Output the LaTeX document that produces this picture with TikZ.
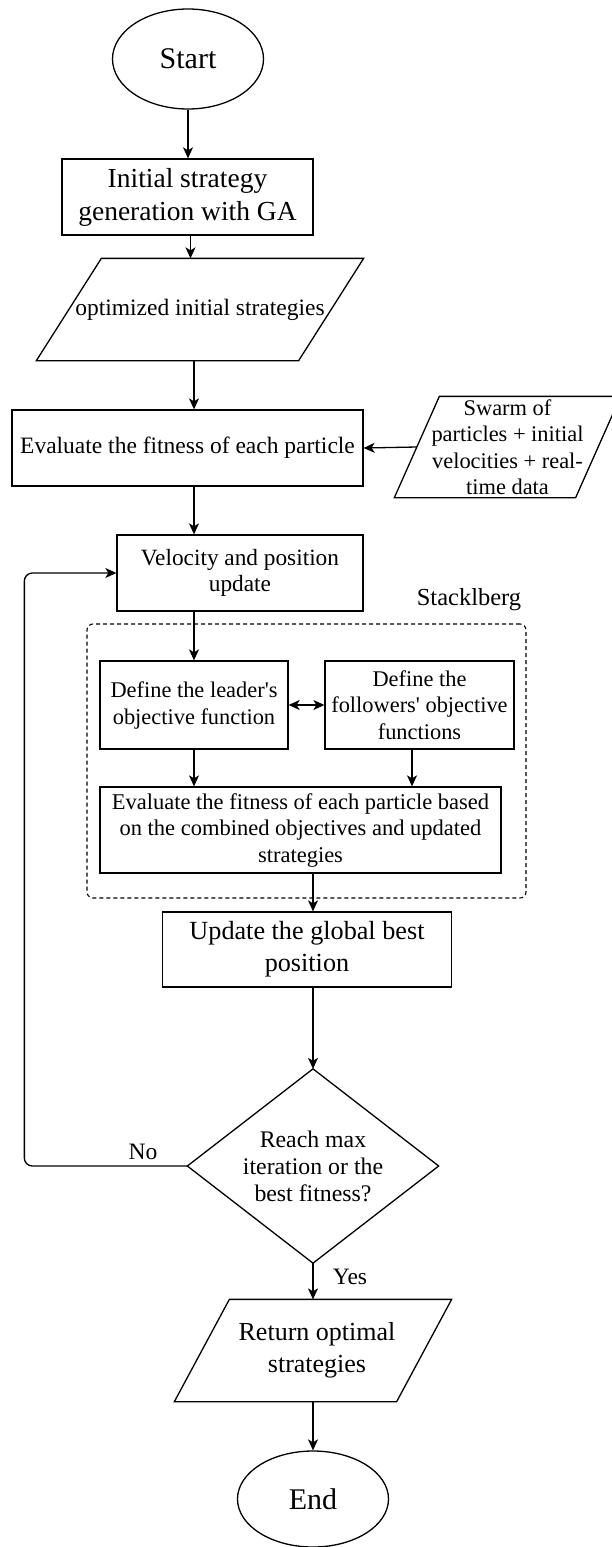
\documentclass[tikz,border=0pt]{standalone}
\usepackage{fontspec}
\setmainfont{Liberation Serif}
\usetikzlibrary{shapes.geometric,arrows.meta,calc}
\tikzset{
  base/.style={line width=1.3pt, align=center, inner sep=0pt, font=\fontsize{23.5}{26.5}\selectfont},
  box/.style={base, draw, rectangle},
  term/.style={base, draw, ellipse, font=\fontsize{30}{34}\selectfont},
  holder/.style={base, rectangle},
  outline/.style={line width=1.3pt},
  arr/.style={line width=1.3pt, -{Stealth[length=11pt,width=10pt,inset=3pt]}},
  dblarr/.style={line width=1.3pt, {Stealth[length=11pt,width=10pt,inset=3pt]}-{Stealth[length=11pt,width=10pt,inset=3pt]}},
  frame/.style={draw, line width=1.1pt, rounded corners=6pt, dash pattern=on 4pt off 3pt},
  lbl/.style={font=\fontsize{23.5}{26}\selectfont, inner sep=0pt},
}
\begin{document}
\begin{tikzpicture}[x=1pt,y=-1pt]
\useasboundingbox (0,0) rectangle (611,1547);

% nodes
\node[term, minimum width=151, minimum height=100] (start) at (188,59) {Start};
\node[box, minimum width=251, minimum height=76, font=\fontsize{27.5}{33}\selectfont] (box1) at (187.5,197) {Initial strategy\\generation with GA};
\node[holder, minimum width=261, minimum height=101] (p1) at (200,309.5) {optimized initial strategies};
\draw[outline] ($(p1.north west)+(32.5,0)$) -- ($(p1.north east)+(32.5,0)$) -- ($(p1.south east)+(-32.5,0)$) -- ($(p1.south west)+(-32.5,0)$) -- cycle;
\node[box, minimum width=351, minimum height=76] (box2) at (187.5,448) {Evaluate the fitness of each particle};
\node[holder, minimum width=180, minimum height=100, font=\fontsize{22.4}{26.5}\selectfont] (swarm) at (507.5,447) {Swarm of\\particles + initial\\velocities + real-\\time data};
\draw[outline] ($(swarm.north west)+(22.5,0)$) -- ($(swarm.north east)+(22.5,0)$) -- ($(swarm.south east)+(-22.5,0)$) -- ($(swarm.south west)+(-22.5,0)$) -- cycle;
\node[box, minimum width=246, minimum height=76, font=\fontsize{23.3}{26}\selectfont] (vel) at (240,573) {Velocity and position\\update};
\node[frame, minimum width=439, minimum height=274] (frm) at (306.5,761) {};
\node[lbl, font=\fontsize{24.5}{28}\selectfont] (stk) at (469,600) {Stacklberg};
\node[box, minimum width=188, minimum height=88, font=\fontsize{22.4}{27}\selectfont] (lead) at (194,705) {Define the leader\textquotesingle s\\objective function};
\node[box, minimum width=189, minimum height=88, font=\fontsize{22.4}{26.5}\selectfont] (foll) at (419.5,705) {Define the\\followers\textquotesingle{} objective\\functions};
\node[box, minimum width=401, minimum height=86, font=\fontsize{22.5}{26.5}\selectfont] (eval) at (300.5,830) {Evaluate the fitness of each particle based\\on the combined objectives and updated\\strategies};
\node[box, minimum width=289, minimum height=75, font=\fontsize{26.2}{32}\selectfont] (upd) at (307,949.5) {Update the global best\\position};
\node[holder, minimum width=250, minimum height=193, font=\fontsize{23.8}{27}\selectfont] (dec) at (313,1166) {Reach max\\iteration or the\\best fitness?};
\draw[outline] (dec.north) -- (dec.east) -- (dec.south) -- (dec.west) -- cycle;
\node[holder, minimum width=221, minimum height=101, font=\fontsize{26}{32.5}\selectfont] (ret) at (313,1350.5) {\hspace*{8pt}Return optimal\\\hspace*{8pt}strategies};
\draw[outline] ($(ret.north west)+(27.5,0)$) -- ($(ret.north east)+(27.5,0)$) -- ($(ret.south east)+(-27.5,0)$) -- ($(ret.south west)+(-27.5,0)$) -- cycle;
\node[term, minimum width=151, minimum height=96] (end) at (313,1499) {End};

% labels
\node[lbl] (no) at (143,1152) {No};
\node[lbl] (yes) at (350,1277) {Yes};

% connectors
\draw[arr] (start.south) -- (start.south |- box1.north);
\draw[arr] ($(box1.south)+(3,0)$) -- ($(box1.south |- p1.north)+(3,0)$);
\draw[arr] (p1.south -| lead.north) -- (box2.north -| lead.north);
\draw[arr] (swarm.west) -- (box2.east);
\draw[arr] (box2.south -| lead.north) -- (vel.north -| lead.north);
\draw[arr] (vel.south -| lead.north) -- (lead.north);
\draw[dblarr] (lead.east) -- (foll.west);
\draw[arr] (lead.south) -- (lead.south |- eval.north);
\draw[arr] ($(foll.south)+(-7.5,0)$) -- ($(foll.south |- eval.north)+(-7.5,0)$);
\draw[arr] (eval.south -| dec.north) -- (upd.north -| dec.north);
\draw[arr] (upd.south -| dec.north) -- (dec.north);
\draw[arr] (dec.south) -- (ret.north);
\draw[arr] (ret.south) -- (end.north);
\draw[arr, rounded corners=8pt] (dec.west) -- ++(-163,0) |- (vel.west);
\end{tikzpicture}
\end{document}
